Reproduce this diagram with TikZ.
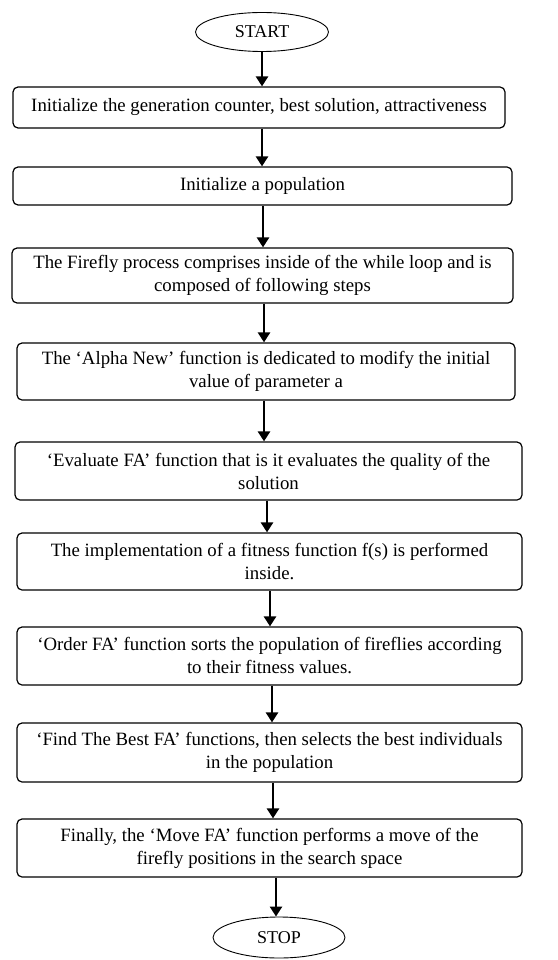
\documentclass[tikz,border=0pt]{standalone}
\usepackage{fontspec}
\setmainfont{Liberation Serif}
\usetikzlibrary{shapes.geometric,arrows.meta}
\tikzset{
  stepbox/.style={draw, line width=1.2pt, rounded corners=5pt, align=center,
    inner sep=0pt, font=\fontsize{18.8}{23}\selectfont},
  term/.style={draw, line width=0.9pt, ellipse, inner sep=0pt,
    minimum width=133pt, minimum height=39pt, font=\fontsize{18}{20}\selectfont},
  flow/.style={line width=2.6pt, -{Triangle[width=12pt,length=10pt]}}
}
\begin{document}
\begin{tikzpicture}[x=1pt,y=-1pt]
      \useasboundingbox (0,0) rectangle (557,960);
      \draw
        (262,32) node[term] (start){START}
        (259,107.5) node[stepbox, minimum width=492pt, minimum height=41pt] (1){Initialize the generation counter, best solution, attractiveness}
        (262.5,186) node[stepbox, minimum width=499pt, minimum height=38pt] (2){Initialize a population}
        (262.5,275.5) node[stepbox, minimum width=501pt, minimum height=55pt] (3){The Firefly process comprises inside of the while loop and is\\composed of following steps}
        (266,371.5) node[stepbox, minimum width=498pt, minimum height=57pt] (4){The ‘Alpha New’ function is dedicated to modify the initial\\value of parameter a}
        (268.5,471) node[stepbox, minimum width=507pt, minimum height=58pt] (5){‘Evaluate FA’ function that is it evaluates the quality of the\\solution}
        (269.5,561.5) node[stepbox, minimum width=505pt, minimum height=57pt] (6){The implementation of a fitness function f(s) is performed\\inside.}
        (269.5,656) node[stepbox, minimum width=505pt, minimum height=58pt] (7){‘Order FA’ function sorts the population of fireflies according\\to their fitness values.}
        (269.5,752.5) node[stepbox, minimum width=505pt, minimum height=59pt] (8){‘Find The Best FA’ functions, then selects the best individuals\\in the population}
        (269.5,848) node[stepbox, minimum width=505pt, minimum height=58pt] (9){Finally, the ‘Move FA’ function performs a move of the\\firefly positions in the search space}
        (279,937.5) node[term, minimum width=132pt, minimum height=41pt] (stop){STOP};
      \begin{scope}[flow]
        \draw (start.south -| 262,0) to (1.north -| 262,0);
        \draw (1.south -| 262,0) to (2.north -| 262,0);
        \draw (2.south -| 263,0) to (3.north -| 263,0);
        \draw (3.south -| 264,0) to (4.north -| 264,0);
        \draw (4.south -| 264,0) to (5.north -| 264,0);
        \draw (5.south -| 267,0) to (6.north -| 267,0);
        \draw (6.south -| 270,0) to (7.north -| 270,0);
        \draw (7.south -| 272,0) to (8.north -| 272,0);
        \draw (8.south -| 273,0) to (9.north -| 273,0);
        \draw (9.south -| 276,0) to (stop.north -| 276,0);
      \end{scope}
    \end{tikzpicture}
\end{document}
